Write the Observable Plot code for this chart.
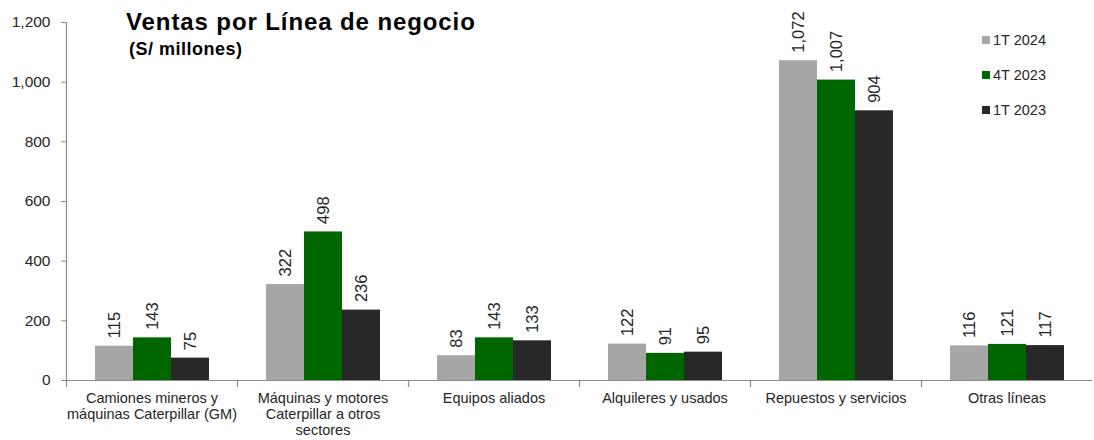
<!DOCTYPE html>
<html>
<head>
<meta charset="utf-8">
<script src="https://cdn.jsdelivr.net/npm/d3@7"></script>
<script src="https://cdn.jsdelivr.net/npm/@observablehq/plot@0.6"></script>
<style>
  html, body { margin: 0; padding: 0; background: #fff; }
  #wrap { position: relative; width: 1094px; height: 440px; font-family: "Liberation Sans", Arial, sans-serif; color: #262626; }
  #chart { position: absolute; left: 0; top: 0; }
  #title { position: absolute; left: 126px; top: 8px; font-weight: bold; font-size: 24px; letter-spacing: 0.9px; color: #000; white-space: nowrap; }
  #subtitle { position: absolute; left: 129px; top: 39px; font-weight: bold; font-size: 18px; letter-spacing: 0.5px; color: #000; white-space: nowrap; }
  #legend { position: absolute; left: 982px; top: 31px; font-size: 14.5px; }
  .item { display: flex; align-items: center; height: 18px; margin-bottom: 17px; white-space: nowrap; }
  .sw { width: 8px; height: 8px; margin-right: 3px; }
</style>
</head>
<body>
<div id="wrap">
  <div id="chart"></div>
  <div id="title">Ventas por Línea de negocio</div>
  <div id="subtitle">(S/ millones)</div>
  <div id="legend"></div>
</div>
<script>
const categories = [
  "Camiones mineros y\nmáquinas Caterpillar (GM)",
  "Máquinas y motores\nCaterpillar a otros\nsectores",
  "Equipos aliados",
  "Alquileres y usados",
  "Repuestos y servicios",
  "Otras líneas"
];
const series = ["1T 2024", "4T 2023", "1T 2023"];
const colors = ["#a6a6a6", "#006600", "#282828"];
const values1T2024 = [115, 322, 83, 122, 1072, 116];
const values4T2023 = [143, 498, 143, 91, 1007, 121];
const values1T2023 = [75, 236, 133, 95, 904, 117];
const yTicks = [0, 200, 400, 600, 800, 1000, 1200];

const seriesValues = [values1T2024, values4T2023, values1T2023];
const table = [];
categories.forEach((c, i) => {
  series.forEach((s, j) => table.push({cat: c, serie: s, value: seriesValues[j][i]}));
});

const fmt = d3.format(",");
const axisGray = "#8c8c8c";

const chart = Plot.plot({
  width: 1094,
  height: 440,
  marginLeft: 63,
  marginRight: 0,
  marginTop: 22,
  marginBottom: 60,
  style: {fontFamily: "'Liberation Sans', Arial, sans-serif", color: "#262626", background: "transparent"},
  fx: {domain: categories, padding: 0, label: null},
  x: {domain: series, paddingInner: 0, paddingOuter: 0.745, axis: null},
  y: {domain: [0, 1200], label: null},
  color: {domain: series, range: colors},
  marks: [
    Plot.barY(table, {fx: "cat", x: "serie", y: "value", fill: "serie"}),
    Plot.text(table, {fx: "cat", x: "serie", y: "value", text: d => fmt(d.value), rotate: -90, textAnchor: "start", dy: -8, fontSize: 16.5, fill: "#262626"}),
    Plot.ruleY([0], {stroke: axisGray, strokeWidth: 1.2}),
    Plot.frame({anchor: "left", insetTop: 358, insetBottom: -6, stroke: axisGray, strokeWidth: 1.2}),
    Plot.frame({anchor: "left", facet: "super", stroke: axisGray, strokeWidth: 1.2}),
    Plot.axisY({ticks: yTicks, tickFormat: fmt, tickSize: 5, tickPadding: 11, fontSize: 15.5, stroke: axisGray, label: null}),
    Plot.axisFx({anchor: "bottom", tickSize: 0, tickPadding: 11, fontSize: 14.5, lineHeight: 1.1, lineAnchor: "top", label: null})
  ]
});
document.getElementById("chart").appendChild(chart);

const legend = document.getElementById("legend");
series.forEach((s, j) => {
  const item = document.createElement("div");
  item.className = "item";
  const sw = document.createElement("span");
  sw.className = "sw";
  sw.style.background = colors[j];
  const lab = document.createElement("span");
  lab.textContent = s;
  item.appendChild(sw);
  item.appendChild(lab);
  legend.appendChild(item);
});
</script>
</body>
</html>
